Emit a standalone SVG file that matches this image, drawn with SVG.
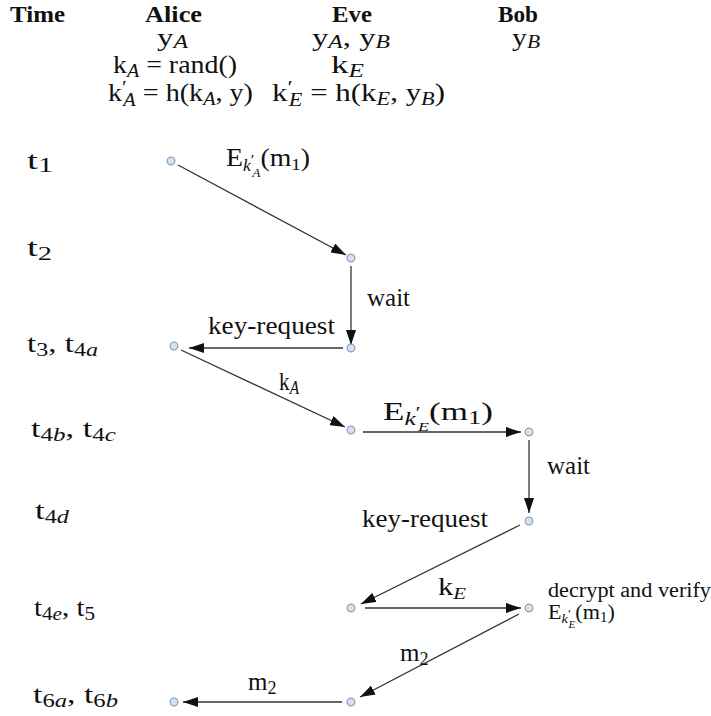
<svg xmlns="http://www.w3.org/2000/svg" width="711" height="716" viewBox="0 0 711 716">
<style>
text{font-family:"Liberation Serif","Times New Roman",serif;fill:#111}
.h{font-size:23px;font-weight:bold}
.m{font-size:25px}
.tl{font-size:26px}
.lb{font-size:25px}
.sm{font-size:20px}
.i{font-style:italic}
.node{fill:#d6e3ef;stroke:#8aa3be;stroke-width:1.3}
.edge{stroke:#333;stroke-width:1.3;fill:none;marker-end:url(#ah)}
</style>
<defs>
<marker id="ah" markerUnits="userSpaceOnUse" markerWidth="16" markerHeight="10" refX="15" refY="5" orient="auto">
<path d="M0,0 L15,5 L0,10 z" fill="#111"/>
</marker>
</defs>
<g id="header">
<text class="h" x="10" y="22" textLength="55" lengthAdjust="spacingAndGlyphs">Time</text>
<text class="h" x="145" y="22" textLength="57" lengthAdjust="spacingAndGlyphs">Alice</text>
<text class="h" x="332" y="22" textLength="40" lengthAdjust="spacingAndGlyphs">Eve</text>
<text class="h" x="498" y="22" textLength="40" lengthAdjust="spacingAndGlyphs">Bob</text>
<text class="m" x="157" y="46" textLength="31" lengthAdjust="spacingAndGlyphs">y<tspan class="i" font-size="18" dy="2">A</tspan></text>
<text class="m" x="312" y="46" textLength="78" lengthAdjust="spacingAndGlyphs">y<tspan class="i" font-size="18" dy="2">A</tspan><tspan dy="-2">, y</tspan><tspan class="i" font-size="18" dy="2">B</tspan></text>
<text class="m" x="512" y="46" textLength="28" lengthAdjust="spacingAndGlyphs">y<tspan class="i" font-size="18" dy="2">B</tspan></text>
<text class="m" x="113" y="73" textLength="124" lengthAdjust="spacingAndGlyphs">k<tspan class="i" font-size="18" dy="4">A</tspan><tspan dy="-4"> = rand()</tspan></text>
<text class="m" x="331" y="73" textLength="33" lengthAdjust="spacingAndGlyphs">k<tspan class="i" font-size="18" dy="4">E</tspan></text>
<text class="m" x="108" y="101" textLength="145" lengthAdjust="spacingAndGlyphs">k<tspan font-size="19" dy="-7">′</tspan><tspan class="i" font-size="18" dx="-3" dy="12">A</tspan><tspan dy="-5"> = h(k</tspan><tspan class="i" font-size="18" dy="4">A</tspan><tspan dy="-4">, y)</tspan></text>
<text class="m" x="272" y="101" textLength="173" lengthAdjust="spacingAndGlyphs">k<tspan font-size="19" dy="-7">′</tspan><tspan class="i" font-size="18" dx="-3" dy="12">E</tspan><tspan dy="-5"> = h(k</tspan><tspan class="i" font-size="18" dy="4">E</tspan><tspan dy="-4">, y</tspan><tspan class="i" font-size="18" dy="4">B</tspan><tspan dy="-4">)</tspan></text>
</g>
<g id="time-labels">
<text class="tl" x="27" y="169" font-size="30" textLength="26" lengthAdjust="spacingAndGlyphs">t<tspan font-size="20" dy="3">1</tspan></text>
<text class="tl" x="27" y="256" textLength="25" lengthAdjust="spacingAndGlyphs">t<tspan font-size="19" dy="4">2</tspan></text>
<text class="tl" x="27" y="352" textLength="71" lengthAdjust="spacingAndGlyphs">t<tspan font-size="19" dy="4">3</tspan><tspan dy="-4">, t</tspan><tspan font-size="19" dy="4">4</tspan><tspan class="i" font-size="19">a</tspan></text>
<text class="tl" x="31" y="437" textLength="85" lengthAdjust="spacingAndGlyphs">t<tspan font-size="19" dy="4">4</tspan><tspan class="i" font-size="19">b</tspan><tspan dy="-4">, t</tspan><tspan font-size="19" dy="4">4</tspan><tspan class="i" font-size="19">c</tspan></text>
<text class="tl" x="35" y="519" font-size="24" textLength="34" lengthAdjust="spacingAndGlyphs">t<tspan font-size="18" dy="4">4</tspan><tspan class="i" font-size="18">d</tspan></text>
<text class="tl" x="34" y="616" textLength="61" lengthAdjust="spacingAndGlyphs">t<tspan font-size="19" dy="4">4</tspan><tspan class="i" font-size="19">e</tspan><tspan dy="-4">, t</tspan><tspan font-size="19" dy="4">5</tspan></text>
<text class="tl" x="33" y="703" textLength="85" lengthAdjust="spacingAndGlyphs">t<tspan font-size="19" dy="4">6</tspan><tspan class="i" font-size="19">a</tspan><tspan dy="-4">, t</tspan><tspan font-size="19" dy="4">6</tspan><tspan class="i" font-size="19">b</tspan></text>
</g>
<g id="connectors">
<line class="edge" x1="178" y1="165" x2="346" y2="255"/>
<line class="edge" x1="351" y1="266" x2="351" y2="345"/>
<line class="edge" x1="343" y1="348" x2="189" y2="348"/>
<line class="edge" x1="181" y1="350" x2="345" y2="427"/>
<line class="edge" x1="363" y1="432" x2="521" y2="432"/>
<line class="edge" x1="529" y1="440" x2="529" y2="513"/>
<line class="edge" x1="520" y1="525" x2="361" y2="604"/>
<line class="edge" x1="365" y1="608" x2="521" y2="608"/>
<line class="edge" x1="519" y1="614" x2="360" y2="697"/>
<line class="edge" x1="342" y1="702" x2="183" y2="702"/>
</g>
<g id="edge-labels">
<text class="lb" x="226" y="166" font-size="23" textLength="84" lengthAdjust="spacingAndGlyphs">E<tspan class="i" font-size="16" dy="5">k</tspan><tspan font-size="15" dy="-6">′</tspan><tspan class="i" font-size="12" dx="-2" dy="12">A</tspan><tspan dy="-11">(m</tspan><tspan font-size="17" dy="4">1</tspan><tspan dy="-4">)</tspan></text>
<text class="lb" x="367" y="306">wait</text>
<text class="lb" x="208" y="334" textLength="127" lengthAdjust="spacingAndGlyphs">key-request</text>
<text class="lb" x="279" y="390" textLength="20" lengthAdjust="spacingAndGlyphs">k<tspan class="i" font-size="18" dy="4">A</tspan></text>
<text class="lb" x="383" y="420" font-size="27" textLength="110" lengthAdjust="spacingAndGlyphs">E<tspan class="i" font-size="18" dy="5">k</tspan><tspan font-size="17" dy="-7">′</tspan><tspan class="i" font-size="13" dx="-2" dy="13">E</tspan><tspan dy="-11">(m</tspan><tspan font-size="19" dy="4">1</tspan><tspan dy="-4">)</tspan></text>
<text class="lb" x="547" y="474">wait</text>
<text class="lb" x="362" y="527" textLength="126" lengthAdjust="spacingAndGlyphs">key-request</text>
<text class="lb" x="438" y="595" font-size="22" textLength="28" lengthAdjust="spacingAndGlyphs">k<tspan class="i" font-size="17" dy="4">E</tspan></text>
<text class="lb" x="400" y="661">m<tspan font-size="18" dy="4">2</tspan></text>
<text class="lb" x="248" y="690">m<tspan font-size="18" dy="4">2</tspan></text>
</g>
<g id="bob-note">
<text class="sm" x="548" y="597" textLength="163" lengthAdjust="spacingAndGlyphs">decrypt and verify</text>
<text class="sm" x="548" y="619" textLength="67" lengthAdjust="spacingAndGlyphs">E<tspan class="i" font-size="13" dy="4">k</tspan><tspan font-size="12" dy="-5">′</tspan><tspan class="i" font-size="10" dx="-2" dy="10">E</tspan><tspan dy="-9">(m</tspan><tspan font-size="14" dy="3">1</tspan><tspan dy="-3">)</tspan></text>
</g>
<g id="n-a1"><circle class="node" cx="171" cy="161" r="3.8"/></g>
<g id="n-e2"><circle class="node" cx="351" cy="258" r="3.8"/></g>
<g id="n-e3"><circle class="node" cx="351" cy="348" r="3.8"/></g>
<g id="n-a3"><circle class="node" cx="174" cy="346" r="3.8"/></g>
<g id="n-e4"><circle class="node" cx="351" cy="430" r="3.8"/></g>
<g id="n-b4"><circle class="node" cx="529" cy="432" r="3.8"/></g>
<g id="n-b5"><circle class="node" cx="529" cy="521" r="3.8"/></g>
<g id="n-e6"><circle class="node" cx="351" cy="608" r="3.8"/></g>
<g id="n-b6"><circle class="node" cx="529" cy="608" r="3.8"/></g>
<g id="n-e7"><circle class="node" cx="351" cy="702" r="3.8"/></g>
<g id="n-a7"><circle class="node" cx="174" cy="702" r="3.8"/></g>
</svg>
